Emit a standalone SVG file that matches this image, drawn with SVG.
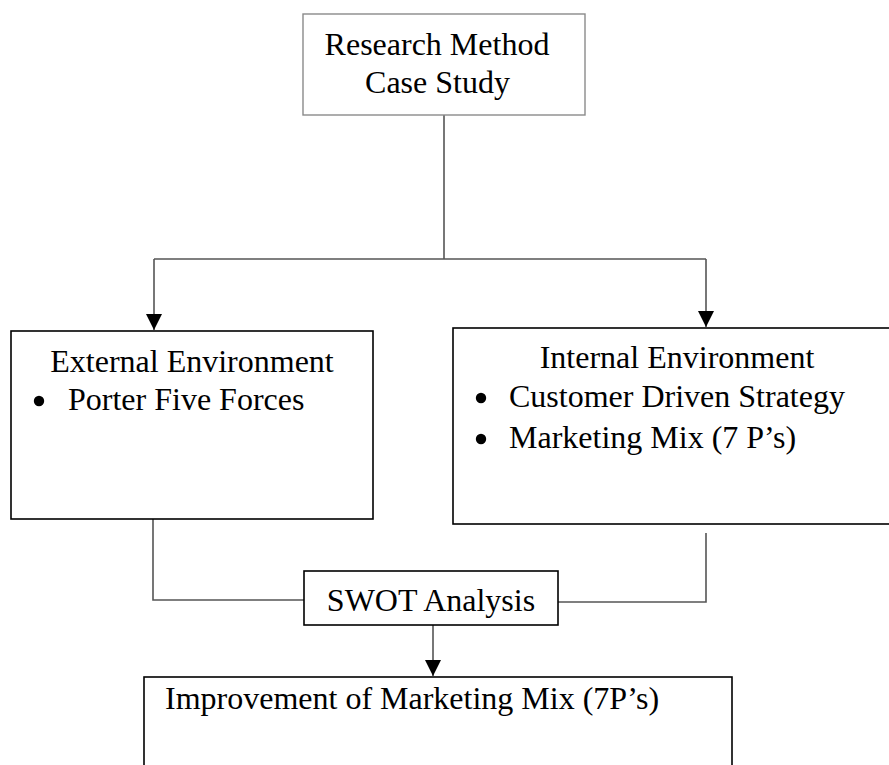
<svg xmlns="http://www.w3.org/2000/svg" width="889" height="765" viewBox="0 0 889 765">
<defs>
<style>
.box{fill:#fff;stroke:#000;stroke-width:1.6}
.gbox{fill:#fff;stroke:#8a8a8a;stroke-width:1.4}
.t{font-family:"Liberation Serif","Times New Roman",serif;font-size:32px;fill:#000}
.dot{fill:#000}
.c{fill:none;stroke:#555;stroke-width:1.6}
</style>
<marker id="ah" viewBox="0 0 16 16" refX="16" refY="8" markerWidth="16" markerHeight="16" markerUnits="userSpaceOnUse" orient="auto">
<path d="M0,0 L16,8 L0,16 Z" fill="#000"/>
</marker>
</defs>
<rect width="889" height="765" fill="#fff"/>
<g id="connectors">
<path class="c" d="M444,115 V259"/>
<path class="c" d="M154,259 H706"/>
<path class="c" d="M154,259 V330" marker-end="url(#ah)"/>
<path class="c" d="M706,259 V327" marker-end="url(#ah)"/>
<path class="c" d="M153,519 V600 H304"/>
<path class="c" d="M706,533 V602 H558"/>
<path class="c" d="M433,625 V676" marker-end="url(#ah)"/>
</g>
<g id="research">
<rect class="gbox" x="303" y="14" width="282" height="101"/>
<text class="t" x="437" y="55" text-anchor="middle">Research Method</text>
<text class="t" x="437.5" y="93" text-anchor="middle">Case Study</text>
</g>
<g id="external">
<rect class="box" x="11" y="331" width="362" height="188"/>
<text class="t" x="192" y="372" text-anchor="middle">External Environment</text>
<circle class="dot" cx="39" cy="401" r="5.2"/>
<text class="t" x="68" y="410">Porter Five Forces</text>
</g>
<g id="internal">
<rect class="box" x="453" y="328" width="460" height="196"/>
<text class="t" x="677" y="368" text-anchor="middle">Internal Environment</text>
<circle class="dot" cx="481" cy="398" r="5.2"/>
<text class="t" x="509" y="407">Customer Driven Strategy</text>
<circle class="dot" cx="481" cy="439" r="5.2"/>
<text class="t" x="509" y="448">Marketing Mix (7 P’s)</text>
</g>
<g id="swot">
<rect class="box" x="304" y="571" width="254" height="54"/>
<text class="t" x="431" y="611" text-anchor="middle">SWOT Analysis</text>
</g>
<g id="improvement">
<rect class="box" x="144" y="677" width="588" height="120"/>
<text class="t" x="165" y="709">Improvement of Marketing Mix (7P’s)</text>
</g>
</svg>
